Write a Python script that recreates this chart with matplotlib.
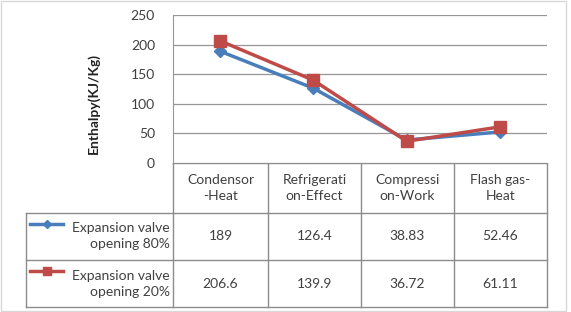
import numpy as np
from matplotlib import pyplot as plt
from matplotlib.patches import Rectangle

categories = ["Condensor\n-Heat", "Refrigerati\non-Effect", "Compressi\non-Work", "Flash gas-\nHeat"]
series_names = ["Expansion valve\nopening 80%", "Expansion valve\nopening 20%"]
open80 = [189, 126.4, 38.83, 52.46]
open20 = [206.6, 139.9, 36.72, 61.11]
open80_labels = ["189", "126.4", "38.83", "52.46"]
open20_labels = ["206.6", "139.9", "36.72", "61.11"]
yticks = [0, 50, 100, 150, 200, 250]

blue = "#4A7EBB"
red = "#BE4B48"
grid = "#969696"
txt = "#404040"
fs = 10
plt.rcParams['font.family'] = ['Lato', 'DejaVu Sans']

W, H = 571, 312
fig = plt.figure(figsize=(W / 100, H / 100), dpi=100)

def box(x0, y0, x1, y1):
    # pixel box -> figure fraction
    return [x0 / W, 1 - y1 / H, (x1 - x0) / W, (y1 - y0) / H]

# chart border
fig.patches.append(Rectangle((1 / W, 1 / H), (W - 6) / W, (H - 2) / H, transform=fig.transFigure,
                             fill=False, ec="#d8d8d8", lw=1))

ax = fig.add_axes(box(173, 15, 547, 163))
x = np.arange(len(categories))
ax.plot(x, open80, color=blue, lw=2.5, marker="D", ms=6, zorder=3)
ax.plot(x, open20, color=red, lw=2.5, marker="s", ms=8, zorder=4)
ax.set_xlim(-0.5, len(categories) - 0.5)
ax.set_ylim(0, 250)
ax.set_yticks(yticks)
ax.set_xticks([])
ax.tick_params(axis="y", length=0, labelsize=fs, pad=13, colors=txt)
ax.grid(axis="y", color=grid, lw=0.9)
ax.set_axisbelow(True)
for s in ["top", "right", "bottom"]:
    ax.spines[s].set_visible(False)
ax.spines["left"].set_color(grid)
ax.set_ylabel("Enthalpy(KJ/Kg)", fontsize=10, fontweight="bold", color="#222222")
ax.yaxis.set_label_coords(-0.195, 0.405)

# data table below the plot
tb = fig.add_axes(box(0, 163, W, 312))
tb.set_xlim(0, W)
tb.set_ylim(312, 163)
tb.axis("off")
cols = [173, 268, 361, 454, 547]
rows = [163, 213, 260, 307]
lc = "#8c8c8c"
tb.plot([173, 547], [163, 163], color=lc, lw=1)
for yy in rows[1:]:
    tb.plot([26, 547], [yy, yy], color=lc, lw=1)
for xx in cols:
    tb.plot([xx, xx], [163, 307], color=lc, lw=1)
tb.plot([26, 26], [213, 307], color=lc, lw=1)

for i, c in enumerate(categories):
    tb.text((cols[i] + cols[i + 1]) / 2, (rows[0] + rows[1]) / 2, c, ha="center", va="center",
            fontsize=fs, color=txt, linespacing=1.4)
for r, (lab, vals, col, mk, ms) in enumerate([(series_names[0], open80_labels, blue, "D", 4.5),
                                              (series_names[1], open20_labels, red, "s", 6)]):
    yc = (rows[r + 1] + rows[r + 2]) / 2
    tb.plot([30, 63], [yc - 13, yc - 13], color=col, lw=2.5)
    tb.plot([46.5], [yc - 13], color=col, marker=mk, ms=ms)
    tb.text(170, yc, lab, ha="right", va="center", fontsize=fs, color=txt, linespacing=1.4)
    for i, v in enumerate(vals):
        tb.text((cols[i] + cols[i + 1]) / 2, yc, v, ha="center", va="center", fontsize=fs, color=txt)

fig.savefig("out.png", dpi=100)
